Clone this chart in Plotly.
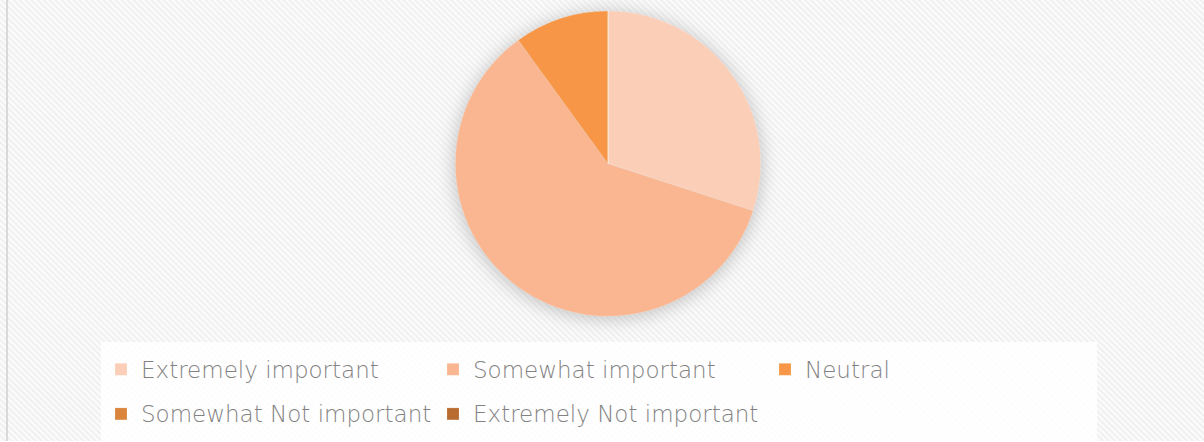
import urllib.parse
import plotly.graph_objects as go

# Survey responses
labels = ["Extremely important", "Somewhat important", "Neutral",
          "Somewhat Not important", "Extremely Not important"]
values = [30, 60, 10, 0, 0]
colors = ["#FBCEB8", "#F9B690", "#F79646", "#DA843C", "#B86C2F"]

W, H = 1204, 442

# Background: light diagonal hatching, a left frame rule and a soft shadow behind the pie
bg_svg = f"""<svg xmlns='http://www.w3.org/2000/svg' width='{W}' height='{H}' viewBox='0 0 {W} {H}'>
<defs>
<pattern id='h' width='4.24' height='6' patternUnits='userSpaceOnUse' patternTransform='rotate(-45)'>
<rect width='4.24' height='6' fill='#fcfcfc'/>
<rect width='2.1' height='6' fill='#f0f0f0'/>
</pattern>
<filter id='b' x='-50%' y='-50%' width='200%' height='200%'><feGaussianBlur stdDeviation='9'/></filter>
</defs>
<rect width='{W}' height='{H}' fill='url(#h)'/>
<rect x='6' y='0' width='2' height='{H}' fill='#d9d9d9'/>
<circle cx='608' cy='166' r='154' fill='#959595' fill-opacity='0.55' filter='url(#b)'/>
</svg>"""
bg_uri = "data:image/svg+xml;charset=utf-8," + urllib.parse.quote(bg_svg)

# Legend text is set smaller than the legend font so the rows get more air;
# the baseline is lifted to keep it centred on the swatch
legend_text = [f"<span style='font-size:23px;baseline-shift:4px'>{t}</span>" for t in labels]

fig = go.Figure(go.Pie(
    labels=legend_text,
    values=values,
    sort=False,
    direction="clockwise",
    rotation=0,
    textinfo="none",
    hoverinfo="label+percent",
    marker=dict(colors=colors, line=dict(color="rgba(255,255,255,0.35)", width=0.5)),
    domain=dict(x=[455 / W, 761 / W], y=[1 - 317 / H, 1 - 11 / H]),
    showlegend=True,
))

fig.update_layout(
    width=W, height=H,
    margin=dict(l=0, r=0, t=0, b=0),
    paper_bgcolor="white",
    images=[dict(source=bg_uri, xref="paper", yref="paper", x=0, y=1,
                 sizex=1, sizey=1, xanchor="left", yanchor="top",
                 sizing="stretch", layer="below")],
    legend=dict(
        orientation="h",
        x=101 / W, xanchor="left",
        y=1 - 343 / H, yanchor="top",
        entrywidth=287, entrywidthmode="pixels",
        bgcolor="rgba(255,255,255,0.85)",
        font=dict(family="DejaVu Sans", size=32, color="#828282", weight=200),
        itemclick=False, itemdoubleclick=False,
    ),
)

fig.write_html("out.html")
